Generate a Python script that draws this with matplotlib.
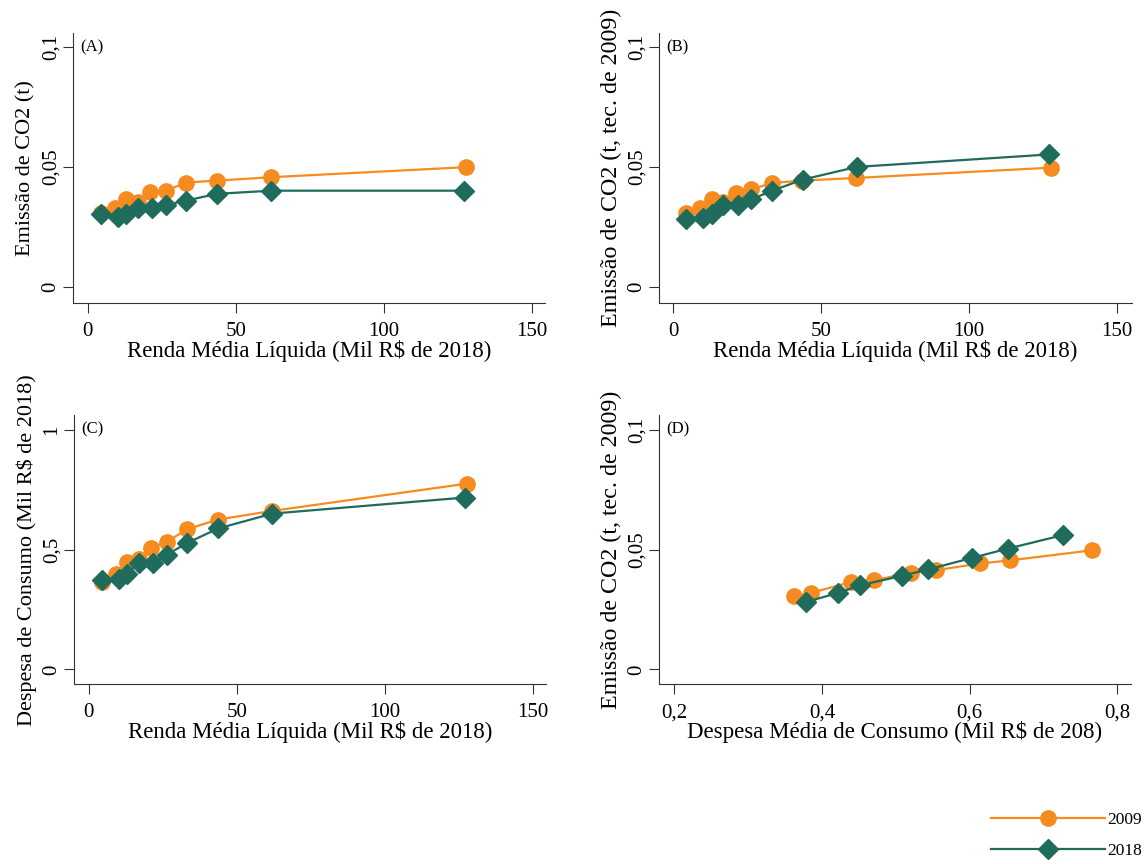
import matplotlib
matplotlib.use('Agg')
import matplotlib.pyplot as plt
from matplotlib.lines import Line2D

plt.rcParams['font.family'] = ['Liberation Serif', 'DejaVu Serif']

# renda media liquida por decil (mil R$ de 2018)
renda_2009 = [4.5, 9.1, 13.0, 17.0, 21.1, 26.4, 33.3, 43.5, 61.8, 127.7]
renda_2018 = [4.4, 10.2, 13.0, 17.0, 21.8, 26.4, 33.3, 43.7, 62.0, 127.0]

# (A) emissao de CO2 (t)
emis_a_2009 = [0.0310, 0.0329, 0.0367, 0.0355, 0.0396, 0.0401, 0.0435, 0.0443, 0.0457, 0.0499]
emis_a_2018 = [0.0305, 0.0293, 0.0303, 0.0328, 0.0328, 0.0342, 0.0360, 0.0388, 0.0401, 0.0401]

# (B) emissao de CO2 (t, tec. de 2009)
emis_b_2009 = [0.0308, 0.0327, 0.0365, 0.0354, 0.0393, 0.0406, 0.0433, 0.0443, 0.0454, 0.0497]
emis_b_2018 = [0.0281, 0.0288, 0.0303, 0.0340, 0.0340, 0.0365, 0.0400, 0.0447, 0.0500, 0.0552]

# (C) despesa de consumo (mil R$ de 2018)
desp_c_2009 = [0.365, 0.400, 0.450, 0.460, 0.508, 0.533, 0.585, 0.625, 0.661, 0.775]
desp_c_2018 = [0.372, 0.379, 0.400, 0.446, 0.446, 0.479, 0.528, 0.588, 0.650, 0.717]

# (D) emissao x despesa media de consumo
desp_d_2009 = [0.3625, 0.385, 0.440, 0.471, 0.521, 0.555, 0.614, 0.655, 0.766]
emis_d_2009 = [0.0305, 0.0319, 0.0365, 0.0372, 0.0404, 0.0414, 0.0442, 0.0455, 0.0497]
desp_d_2018 = [0.379, 0.422, 0.4515, 0.508, 0.544, 0.603, 0.652, 0.726]
emis_d_2018 = [0.0282, 0.0319, 0.0351, 0.0390, 0.0417, 0.0465, 0.0504, 0.0560]

ORANGE = '#f68b1f'
GREEN = '#1f6b5c'
FS = 15


def draw_panel(ax, x09, y09, x18, y18, tag, xlab, ylab, ylab_fs, xticks, xtl, yticks, ytl, xlim, ylim):
    ax.plot(x09, y09, color=ORANGE, marker='o', markersize=11, linewidth=1.6)
    ax.plot(x18, y18, color=GREEN, marker='D', markersize=10, linewidth=1.6)
    ax.set_xlim(xlim)
    ax.set_ylim(ylim)
    ax.set_xticks(xticks)
    ax.set_xticklabels(xtl, fontsize=FS)
    ax.set_yticks(yticks)
    ax.set_yticklabels(ytl, fontsize=FS, rotation=90, va='center')
    ax.set_xlabel(xlab, fontsize=16.5, labelpad=-1)
    ax.set_ylabel(ylab, fontsize=ylab_fs, labelpad=4)
    ax.spines['top'].set_visible(False)
    ax.spines['right'].set_visible(False)
    ax.spines['left'].set_color('#333333')
    ax.spines['bottom'].set_color('#333333')
    ax.tick_params(length=7, color='#333333')
    ax.tick_params(axis='y', pad=2)
    ax.tick_params(axis='x', pad=7)
    ax.text(0.015, 0.948, tag, transform=ax.transAxes, fontsize=12, va='center')


fig = plt.figure(figsize=(11.46, 8.64), dpi=100)
ax_a = fig.add_axes([0.0637, 0.6493, 0.412, 0.3125])
ax_b = fig.add_axes([0.575, 0.6493, 0.4125, 0.3125])
ax_c = fig.add_axes([0.0646, 0.2083, 0.412, 0.311])
ax_d = fig.add_axes([0.575, 0.2083, 0.4115, 0.311])

renda_lab = 'Renda Média Líquida (Mil R$ de 2018)'
xt = [0, 50, 100, 150]
xtl = ['0', '50', '100', '150']
yt = [0, 0.05, 0.1]
ytl = ['0', '0,05', '0,1']

draw_panel(ax_a, renda_2009, emis_a_2009, renda_2018, emis_a_2018, '(A)',
           renda_lab, 'Emissão de CO2 (t)', 16, xt, xtl, yt, ytl, (-5, 154.5), (-0.0067, 0.1058))
draw_panel(ax_b, renda_2009, emis_b_2009, renda_2018, emis_b_2018, '(B)',
           renda_lab, 'Emissão de CO2 (t, tec. de 2009)', 17.3, xt, xtl, yt, ytl,
           (-4.8, 154.9), (-0.0067, 0.1058))
draw_panel(ax_c, renda_2009, desp_c_2009, renda_2018, desp_c_2018, '(C)',
           renda_lab, 'Despesa de Consumo (Mil R$ de 2018)', 16, xt, xtl, [0, 0.5, 1], ['0', '0,5', '1'],
           (-5, 154.5), (-0.061, 1.06))
draw_panel(ax_d, desp_d_2009, emis_d_2009, desp_d_2018, emis_d_2018, '(D)',
           'Despesa Média de Consumo (Mil R$ de 208)', 'Emissão de CO2 (t, tec. de 2009)', 17.3,
           [0.2, 0.4, 0.6, 0.8], ['0,2', '0,4', '0,6', '0,8'], yt, ytl, (0.1793, 0.818), (-0.0061, 0.106))

handles = [Line2D([], [], color=ORANGE, marker='o', markersize=11, linewidth=1.6),
           Line2D([], [], color=GREEN, marker='D', markersize=10, linewidth=1.6)]
fig.legend(handles, ['2009', '2018'], loc='lower right', bbox_to_anchor=(1.01, -0.012),
           frameon=False, fontsize=12.5, handlelength=6.6, handletextpad=0.1, labelspacing=0.85)

fig.savefig('out.png', dpi=100)
